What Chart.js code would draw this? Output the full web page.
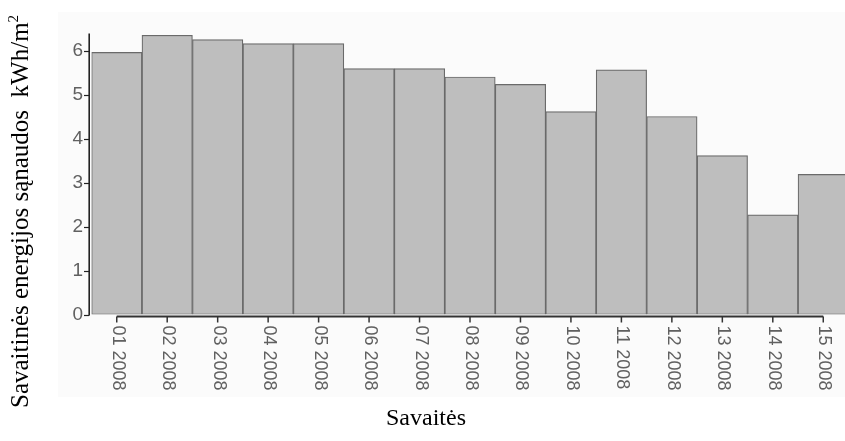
<!DOCTYPE html>
<html>
<head>
<meta charset="utf-8">
<script src="https://cdn.jsdelivr.net/npm/chart.js@4.4.0/dist/chart.umd.min.js"></script>
<style>
  html, body { margin: 0; padding: 0; background: #fff; overflow: hidden; }
  #wrap { position: relative; width: 845px; height: 441px; overflow: hidden; }
  #bg { position: absolute; left: 58px; top: 12px; width: 787px; height: 385px; background: #fbfbfb; }
  canvas { position: absolute; left: 0; top: 0; }
  .title { position: absolute; font-family: "Liberation Serif", "Times New Roman", serif; color: #000; white-space: nowrap; line-height: 1; }
  #ytitle { left: 7px; top: 408px; font-size: 25px; transform-origin: 0 0; transform: rotate(-90deg); }
  #ytitle sup { font-size: 15px; vertical-align: 10px; line-height: 0; }
  #xtitle { left: 386px; top: 405px; font-size: 24px; }
</style>
</head>
<body>
<div id="wrap">
  <div id="bg"></div>
  <canvas id="barChart" width="870" height="441"></canvas>
  <div class="title" id="ytitle">Savaitinės energijos sąnaudos&nbsp; kWh/m<sup>2</sup></div>
  <div class="title" id="xtitle">Savaitės</div>
</div>
<script>
// duomenys
const weeks = ['01 2008', '02 2008', '03 2008', '04 2008', '05 2008', '06 2008', '07 2008', '08 2008',
  '09 2008', '10 2008', '11 2008', '12 2008', '13 2008', '14 2008', '15 2008'];
const consumption = [5.97, 6.36, 6.26, 6.17, 6.17, 5.60, 5.60, 5.41, 5.24, 4.62, 5.57, 4.51, 3.62, 2.27, 3.19];
const yTicks = [0, 1, 2, 3, 4, 5, 6];

const labelFont = '18px "Liberation Sans", Arial, sans-serif';
const labelColor = '#606060';

// asys piešiamos ranka: x linija tarp pirmos ir paskutinės žymos, etiketės pasuktos pagal laikrodžio rodyklę
const axesPlugin = {
  id: 'axes',
  afterDraw(chart) {
    const ctx = chart.ctx;
    const x = chart.scales.x;
    const y = chart.scales.y;
    const area = chart.chartArea;
    ctx.save();

    // y ašis
    ctx.strokeStyle = '#222';
    ctx.lineWidth = 1.6;
    ctx.beginPath();
    ctx.moveTo(area.left - 2.3, area.bottom + 1);
    ctx.lineTo(area.left - 2.3, area.top);
    ctx.stroke();
    ctx.lineWidth = 1.2;
    yTicks.forEach(v => {
      const py = Math.round(y.getPixelForValue(v)) + 0.5;
      ctx.beginPath();
      ctx.moveTo(area.left - 7.5, py);
      ctx.lineTo(area.left - 2.3, py);
      ctx.stroke();
    });

    // x ašis
    const first = x.getPixelForTick(0);
    const last = x.getPixelForTick(weeks.length - 1);
    const ay = area.bottom + 2;
    ctx.strokeStyle = '#333';
    ctx.lineWidth = 2;
    ctx.beginPath();
    ctx.moveTo(first, ay);
    ctx.lineTo(last, ay);
    ctx.stroke();

    ctx.lineWidth = 1.5;
    ctx.font = labelFont;
    ctx.fillStyle = labelColor;
    ctx.textAlign = 'left';
    ctx.textBaseline = 'middle';
    weeks.forEach((w, i) => {
      const px = x.getPixelForTick(i);
      ctx.beginPath();
      ctx.moveTo(px, ay);
      ctx.lineTo(px, ay + 6);
      ctx.stroke();
      ctx.save();
      ctx.translate(px + 1, ay + 9);
      ctx.rotate(Math.PI / 2);
      ctx.fillText(w, 0, 0);
      ctx.restore();
    });
    ctx.restore();
  }
};

const ctx = document.getElementById('barChart');

new Chart(ctx, {
  type: 'bar',
  data: {
    labels: weeks,
    datasets: [{
      label: 'Savaitinės energijos sąnaudos',
      data: consumption,
      backgroundColor: '#bebebe',
      borderColor: '#6a6a6a',
      borderWidth: 1.2,
      borderSkipped: false,
      barPercentage: 1,
      categoryPercentage: 1
    }]
  },
  options: {
    responsive: false,
    animation: false,
    layout: { padding: { left: 0, top: 33.5, right: 21.5, bottom: 0 } },
    plugins: {
      legend: { display: false },
      tooltip: { enabled: false }
    },
    scales: {
      x: {
        grid: { display: false, drawTicks: false },
        border: { display: false },
        ticks: { display: false },
        afterFit: scale => { scale.height = 126.5; }
      },
      y: {
        min: 0,
        max: 6.4,
        grid: { display: false, drawTicks: false },
        border: { display: false },
        afterBuildTicks: scale => { scale.ticks = yTicks.map(v => ({ value: v })); },
        ticks: {
          padding: 8.5,
          color: labelColor,
          font: { family: '"Liberation Sans", Arial, sans-serif', size: 19 }
        },
        afterFit: scale => { scale.width = 91.5; }
      }
    }
  },
  plugins: [axesPlugin]
});
</script>
</body>
</html>
